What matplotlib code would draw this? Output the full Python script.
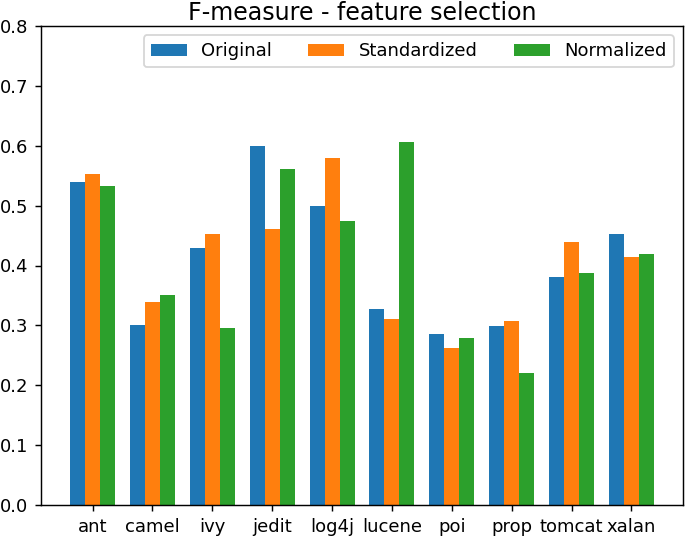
import numpy as np
import matplotlib
matplotlib.use("Agg")
import matplotlib.pyplot as plt

projects = ["ant", "camel", "ivy", "jedit", "log4j", "lucene", "poi", "prop", "tomcat", "xalan"]
original = [0.540, 0.300, 0.430, 0.599, 0.500, 0.327, 0.286, 0.299, 0.380, 0.453]
standardized = [0.553, 0.339, 0.452, 0.461, 0.580, 0.311, 0.263, 0.307, 0.440, 0.414]
normalized = [0.533, 0.351, 0.295, 0.561, 0.474, 0.607, 0.279, 0.220, 0.387, 0.419]

dpi = 130
fig = plt.figure(figsize=(685 / dpi, 536 / dpi), dpi=dpi)
ax = fig.add_axes([41 / 685, 31 / 536, 642 / 685, 479 / 536])

x = np.arange(len(projects))
w = 0.25
ax.bar(x - w, original, w, label="Original", color="#1f77b4")
ax.bar(x, standardized, w, label="Standardized", color="#ff7f0e")
ax.bar(x + w, normalized, w, label="Normalized", color="#2ca02c")

ax.set_xticks(x)
ax.set_xticklabels(projects)
ax.set_ylim(0, 0.8)
ax.set_yticks(np.arange(0, 0.81, 0.1))
ax.set_title("F-measure - feature selection", fontsize=13.2, pad=3.5)
ax.legend(loc="upper right", ncol=3)

fig.savefig("out.png", dpi=dpi)
